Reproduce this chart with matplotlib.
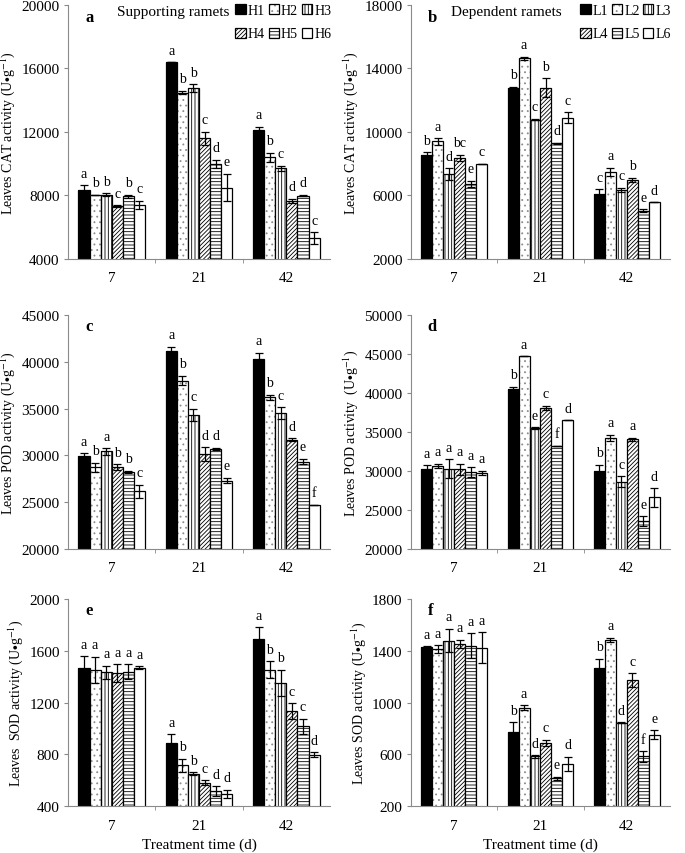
import numpy as np
import matplotlib
matplotlib.use('Agg')
import matplotlib.pyplot as plt
from matplotlib.legend_handler import HandlerTuple

plt.rcParams['font.family'] = ['Liberation Serif', 'DejaVu Serif']
plt.rcParams['mathtext.fontset'] = 'stix'
plt.rcParams['hatch.linewidth'] = 0.6

# ------------------------------------------------------------------------------
# Data
days = ['7', '21', '42']
h_names = ['H1', 'H2', 'H3', 'H4', 'H5', 'H6']
l_names = ['L1', 'L2', 'L3', 'L4', 'L5', 'L6']

# a - CAT, supporting ramets (rows = series, cols = day)
cat_h = [[8330, 16400, 12130],
         [8050, 14480, 10400],
         [8050, 14750, 9710],
         [7320, 11600, 7650],
         [7950, 10000, 7990],
         [7420, 8500, 5320]]
cat_h_err = [[300, 0, 200],
             [0, 100, 300],
             [100, 250, 150],
             [50, 400, 150],
             [100, 250, 50],
             [250, 850, 350]]
cat_h_sig = [['a', 'a', 'a'], ['b', 'b', 'b'], ['b', 'b', 'c'],
             ['c', 'c', 'd'], ['b', 'd', 'd'], ['c', 'e', 'c']]

# b - CAT, dependent ramets
cat_l = [[8520, 12750, 6100],
         [9400, 14650, 7500],
         [7350, 10780, 6340],
         [8350, 12790, 6970],
         [6740, 9280, 5050],
         [7990, 10890, 5580]]
cat_l_err = [[200, 100, 300],
             [200, 100, 250],
             [350, 50, 150],
             [200, 600, 150],
             [200, 50, 80],
             [0, 350, 0]]
cat_l_sig = [['b', 'b', 'c'], ['a', 'a', 'a'], ['d', 'c', 'c'],
             ['bc', 'b', 'b'], ['e', 'd', 'e'], ['c', 'c', 'd']]

# c - POD, supporting ramets
pod_h = [[29970, 41180, 40290],
         [28720, 37980, 36200],
         [30430, 34310, 34520],
         [28760, 30100, 31680],
         [28260, 30700, 29330],
         [26160, 27300, 24700]]
pod_h_err = [[250, 400, 700],
             [500, 500, 250],
             [350, 650, 600],
             [300, 750, 150],
             [100, 100, 300],
             [700, 300, 0]]
pod_h_sig = [['a', 'a', 'a'], ['b', 'b', 'b'], ['a', 'c', 'c'],
             ['b', 'd', 'd'], ['b', 'd', 'e'], ['c', 'e', 'f']]

# d - POD, dependent ramets
pod_l = [[30210, 40510, 30000],
         [30640, 44680, 34250],
         [30300, 35530, 28600],
         [30200, 38080, 34040],
         [29870, 33190, 23600],
         [29790, 36510, 26600]]
pod_l_err = [[500, 250, 800],
             [300, 0, 400],
             [1200, 100, 700],
             [700, 250, 250],
             [600, 50, 600],
             [250, 0, 1200]]
pod_l_sig = [['a', 'b', 'b'], ['a', 'a', 'a'], ['a', 'e', 'c'],
             ['a', 'c', 'a'], ['a', 'f', 'e'], ['a', 'd', 'd']]

# e - SOD, supporting ramets
sod_h = [[1467, 889, 1691],
         [1452, 714, 1454],
         [1434, 650, 1352],
         [1426, 580, 1133],
         [1439, 516, 1015],
         [1470, 495, 796]]
sod_h_err = [[90, 65, 90],
             [100, 50, 65],
             [50, 10, 100],
             [70, 20, 60],
             [55, 35, 60],
             [10, 30, 20]]
sod_h_sig = [['a', 'a', 'a'], ['a', 'b', 'b'], ['a', 'b', 'b'],
             ['a', 'c', 'c'], ['a', 'd', 'c'], ['a', 'd', 'd']]

# f - SOD, dependent ramets
sod_l = [[1429, 771, 1265],
         [1414, 959, 1486],
         [1478, 583, 843],
         [1455, 689, 1172],
         [1440, 415, 583],
         [1424, 526, 750]]
sod_l_err = [[5, 75, 75],
             [30, 20, 15],
             [90, 10, 5],
             [30, 25, 55],
             [95, 10, 40],
             [120, 55, 35]]
sod_l_sig = [['a', 'b', 'b'], ['a', 'a', 'a'], ['a', 'd', 'd'],
             ['a', 'c', 'c'], ['a', 'e', 'f'], ['a', 'd', 'e']]

# ------------------------------------------------------------------------------
# Bar styles (fill, hatch, hatch colour) for the six series
styles = [('black', '', 'black'), ('white', '...', '#8c8c8c'),
          ('white', '|||||', 'black'), ('white', '////////', 'black'),
          ('white', '-----', 'black'), ('white', '', 'black')]

BAR_W = 0.127
SPINE = '#8a8a8a'


def draw_panel(ax, vals, errs, sigs, names, ylim, yticks, ylabel, letter,
               title=None, title_x=0.4, legend=False, xlabel=False):
    x = np.arange(len(days)) + 0.5
    handles = []
    for i, (fc, hatch, hc) in enumerate(styles):
        pos = x + (i - 2.5) * BAR_W
        # fill + hatch first, then the black outline on top
        b1 = ax.bar(pos, vals[i], BAR_W, color=fc, edgecolor=hc,
                    hatch=hatch, linewidth=0, zorder=2)
        b2 = ax.bar(pos, vals[i], BAR_W, fill=False, edgecolor='black',
                    linewidth=0.9, zorder=2)
        handles.append((b1, b2))
        ax.errorbar(pos, vals[i], yerr=errs[i], fmt='none', ecolor='black',
                    elinewidth=0.9, capsize=3, capthick=0.9, zorder=3)
        for j in range(len(days)):
            ax.annotate(sigs[i][j], (pos[j], vals[i][j] + errs[i][j]),
                        xytext=(0, 4), textcoords='offset points',
                        ha='center', va='bottom', fontsize=10)

    ax.set_xlim(0, 3)
    ax.set_ylim(*ylim)
    ax.set_yticks(yticks)
    ax.set_xticks(x)
    ax.set_xticklabels(days)
    ax.set_xticks([1, 2], minor=True)
    ax.tick_params(axis='x', which='major', length=0, pad=9, labelsize=11)
    ax.tick_params(axis='x', which='minor', length=3, color=SPINE)
    ax.tick_params(axis='y', length=3, color=SPINE, labelsize=11, pad=3)
    for s in ['top', 'right']:
        ax.spines[s].set_visible(False)
    for s in ['left', 'bottom']:
        ax.spines[s].set_color(SPINE)
        ax.spines[s].set_linewidth(0.8)
    ax.set_ylabel(ylabel, fontsize=10, labelpad=3)
    ax.text(0.065, 0.985, letter, transform=ax.transAxes, fontsize=12,
            fontweight='bold', va='top', ha='left')
    if title:
        ax.text(title_x, 1.0, title, transform=ax.transAxes, fontsize=11,
                va='top', ha='center')
    if legend:
        # row-wise order: 1 2 3 / 4 5 6
        order = [0, 3, 1, 4, 2, 5]
        ax.legend([handles[k] for k in order], [names[k] for k in order],
                  handler_map={tuple: HandlerTuple(ndivide=1, pad=0)},
                  ncol=3, loc='upper right', bbox_to_anchor=(1.02, 1.02),
                  frameon=False, fontsize=10, handlelength=0.75,
                  handleheight=0.75, handletextpad=0.15, columnspacing=0.25,
                  labelspacing=0.75, borderpad=0.2, borderaxespad=0.1)
    if xlabel:
        ax.set_xlabel('Treatment time (d)', fontsize=11, labelpad=4)


fig = plt.figure(figsize=(6.85, 8.54), dpi=100)

ax_a = fig.add_axes([0.0993, 0.6956, 0.3825, 0.2974])
ax_b = fig.add_axes([0.6000, 0.6956, 0.3780, 0.2974])
ax_c = fig.add_axes([0.0993, 0.3560, 0.3825, 0.2740])
ax_d = fig.add_axes([0.6000, 0.3560, 0.3780, 0.2740])
ax_e = fig.add_axes([0.0993, 0.0550, 0.3825, 0.2424])
ax_f = fig.add_axes([0.6000, 0.0550, 0.3780, 0.2424])

unit = r' (U$\bullet$g$^{-1}$)'
draw_panel(ax_a, cat_h, cat_h_err, cat_h_sig, h_names, (4000, 20000),
           [4000, 8000, 12000, 16000, 20000], 'Leaves CAT activity' + unit,
           'a', title='Supporting ramets', title_x=0.4, legend=True)
draw_panel(ax_b, cat_l, cat_l_err, cat_l_sig, l_names, (2000, 18000),
           [2000, 6000, 10000, 14000, 18000], 'Leaves CAT activity' + unit,
           'b', title='Dependent ramets', title_x=0.37, legend=True)
draw_panel(ax_c, pod_h, pod_h_err, pod_h_sig, h_names, (20000, 45000),
           [20000, 25000, 30000, 35000, 40000, 45000],
           'Leaves POD activity' + unit, 'c')
draw_panel(ax_d, pod_l, pod_l_err, pod_l_sig, l_names, (20000, 50000),
           [20000, 25000, 30000, 35000, 40000, 45000, 50000],
           'Leaves POD activity ' + unit, 'd')
draw_panel(ax_e, sod_h, sod_h_err, sod_h_sig, h_names, (400, 2000),
           [400, 800, 1200, 1600, 2000], 'Leaves  SOD activity' + unit,
           'e', xlabel=True)
draw_panel(ax_f, sod_l, sod_l_err, sod_l_sig, l_names, (200, 1800),
           [200, 600, 1000, 1400, 1800], 'Leaves SOD activity' + unit,
           'f', xlabel=True)

fig.savefig('out.png', dpi=100)
